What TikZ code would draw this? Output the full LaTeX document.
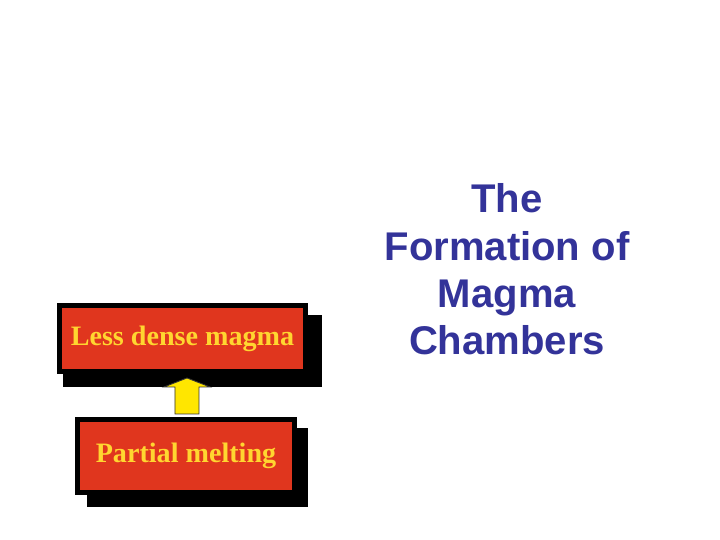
\documentclass[tikz,border=0pt]{standalone}
\usepackage{fontspec}
\setmainfont{Liberation Serif}
\newfontfamily\titlefont{Liberation Sans}
\usetikzlibrary{backgrounds}

\definecolor{lavared}{RGB}{224,54,30}
\definecolor{labelyellow}{RGB}{255,214,48}
\definecolor{arrowyellow}{RGB}{255,230,0}
\definecolor{titleblue}{RGB}{51,51,153}

\begin{document}
\begin{tikzpicture}[x=0.1mm, y=0.1mm,
  plate/.style={draw=black, line width=0.5mm, fill=lavared, text=labelyellow,
    inner sep=0pt, font=\fontsize{8}{9.6}\selectfont\bfseries},
  shade/.style={fill=black},
  uparrow/.style={draw=black!80, line width=0.25pt, fill=arrowyellow, line join=miter}
]
  \useasboundingbox (0,0) rectangle (720,540);

  \node[plate, minimum width=24.6mm, minimum height=6.6mm] (less) at (182.5,201.5) {Less dense magma};
  \node[plate, minimum width=21.7mm, minimum height=7.3mm] (partial) at (186,84) {Partial melting};

  \begin{scope}[on background layer]
    \fill[shade] ([xshift=0.6mm,yshift=-1.2mm]less.north west) rectangle ([xshift=1.4mm,yshift=-1.3mm]less.south east);
    \fill[shade] ([xshift=1.2mm,yshift=-1.1mm]partial.north west) rectangle ([xshift=1.1mm,yshift=-1.2mm]partial.south east);
  \end{scope}

  % block arrow from partial melting up to less dense magma
  \begin{scope}[shift={(partial.north)}]
    \draw[uparrow] (-11,3) -- (-11,30) -- (-22,30) -- (1,39) -- (24,30) -- (13,30) -- (13,3) -- cycle;
  \end{scope}

  \node[align=center, text=titleblue, font=\titlefont\fontsize{11.4}{13.5}\selectfont\bfseries] (title) at (507,270.5)
    {The\\Formation of\\Magma\\Chambers};
\end{tikzpicture}
\end{document}
